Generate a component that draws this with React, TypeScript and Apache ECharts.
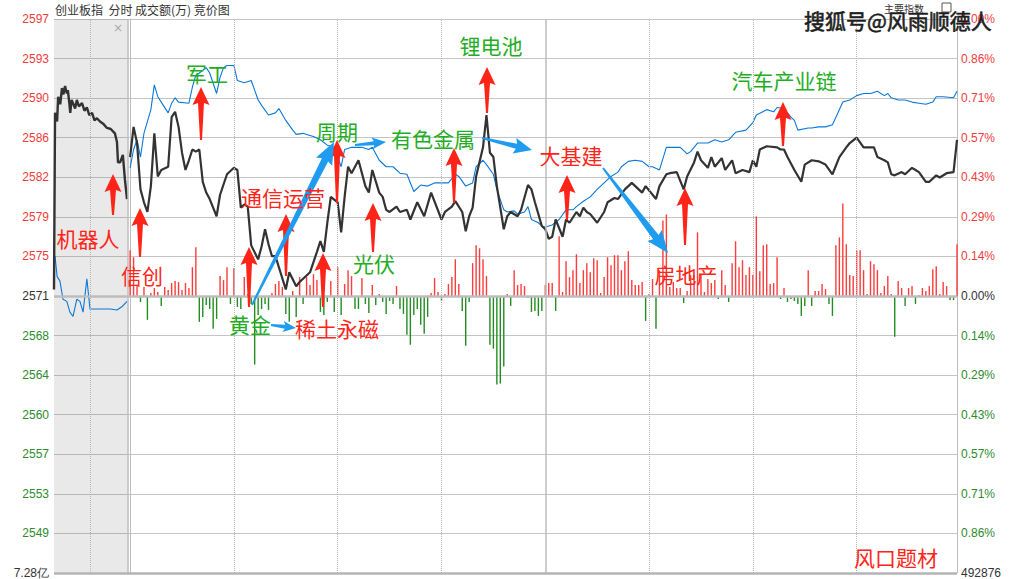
import React, { useEffect, useRef } from "react";
import * as echarts from "echarts";

// ---------- data ----------
const PREV_CLOSE = 2571.4; // 昨收
const PCT_PER_ROW = 1 / 7; // % per grid row
const STRENGTH_PER_ROW = 39.8; // strength units per grid row

const leftTickLabels = ["2597", "2593", "2590", "2586", "2582", "2579", "2575", "2571", "2568", "2564", "2560", "2557", "2553", "2549", "7.28亿"];
const rightTickLabels = ["1.00%", "0.86%", "0.71%", "0.57%", "0.43%", "0.29%", "0.14%", "0.00%", "0.14%", "0.29%", "0.43%", "0.57%", "0.71%", "0.86%", "492876"];

// 竞价 (auction) minutes before 9:30
const auctionMinutes = [-22.0, -21.7, -21.1, -20.8, -20.2, -19.7, -19.3, -18.8, -18.3, -18.0, -17.6, -17.3, -16.9, -16.5, -15.9, -15.4, -14.8, -13.9, -13.2, -12.5, -11.8, -11.0, -10.3, -9.6, -8.7, -7.8, -6.7, -5.6, -4.4, -3.8, -3.5, -2.9, -2.1, -1.5, -0.9];
const auctionIndex = [2572.0, 2588.4, 2587.6, 2589.9, 2589.2, 2590.7, 2590.1, 2590.9, 2590.2, 2590.5, 2589.4, 2588.4, 2589.6, 2589.3, 2588.8, 2589.6, 2589.0, 2589.3, 2588.6, 2588.9, 2588.2, 2588.4, 2587.7, 2587.9, 2587.6, 2587.4, 2587.0, 2586.9, 2586.5, 2585.7, 2583.8, 2583.8, 2584.5, 2582.2, 2580.4];
const auctionBlueMinutes = [-21.7, -21.1, -20.3, -19.4, -18.3, -17.4, -16.5, -15.4, -14.5, -13.6, -12.5, -11.6, -10.2, -8.7, -5.8, -3.8, -2.4, -0.9];
const auctionBlue = [2575.1, 2573.2, 2572.8, 2571.1, 2570.9, 2569.9, 2569.5, 2571.1, 2570.9, 2569.9, 2573.0, 2570.2, 2570.2, 2570.2, 2570.2, 2570.1, 2570.4, 2570.9];

// trading minutes (0 = 9:30, 120 = 11:30/13:00)
const indexMinutes = [0, 1, 2, 3, 4, 5, 6, 7, 8, 9, 11, 12, 13, 14, 15, 16, 17, 18, 19, 20, 21, 22, 23, 25, 26, 28, 30, 31, 32, 33, 34, 35, 37, 38, 39, 40, 41, 42, 45, 46, 48, 49, 52, 54, 55, 56, 57, 58, 60, 61, 62, 63, 64, 66, 68, 69, 70, 72, 73, 74, 75, 77, 78, 80, 81, 83, 85, 87, 90, 91, 93, 94, 96, 97, 98, 99, 100, 102, 103, 104, 105, 106, 108, 109, 110, 112, 113, 115, 116, 117, 119, 120, 121, 122, 123, 125, 126, 127, 129, 130, 131, 132, 133, 135, 137, 138, 140, 141, 143, 145, 146, 148, 149, 152, 153, 155, 156, 158, 160, 161, 163, 164, 165, 167, 168, 169, 171, 172, 174, 175, 177, 179, 180, 181, 182, 184, 187, 188, 189, 190, 192, 194, 195, 197, 199, 201, 203, 205, 207, 208, 210, 212, 213, 215, 216, 218, 219, 220, 221, 223, 224, 226, 227, 228, 230, 231, 233, 234, 236, 238, 239];
const indexValues = [2584.3, 2587.1, 2585.6, 2581.3, 2580.1, 2579.2, 2581.6, 2586.5, 2582.5, 2583.1, 2583.4, 2588.0, 2588.5, 2587.1, 2584.7, 2583.1, 2584.0, 2585.0, 2584.8, 2585.0, 2582.0, 2581.0, 2580.4, 2578.8, 2580.8, 2582.7, 2583.3, 2583.1, 2579.6, 2579.9, 2579.7, 2576.1, 2574.8, 2576.0, 2577.6, 2576.2, 2575.1, 2575.1, 2572.0, 2573.6, 2572.3, 2572.7, 2573.6, 2575.5, 2576.5, 2575.5, 2578.2, 2580.6, 2580.1, 2577.3, 2580.6, 2583.4, 2582.8, 2584.0, 2581.6, 2581.0, 2583.1, 2581.0, 2580.6, 2579.4, 2579.2, 2579.7, 2579.2, 2579.4, 2578.5, 2580.1, 2578.8, 2581.0, 2578.5, 2579.2, 2579.7, 2580.2, 2579.2, 2577.4, 2578.8, 2579.6, 2582.5, 2585.2, 2588.2, 2584.7, 2584.3, 2581.6, 2577.6, 2578.8, 2579.2, 2578.8, 2579.4, 2581.7, 2581.3, 2580.1, 2577.9, 2577.6, 2576.7, 2576.9, 2578.5, 2576.9, 2578.5, 2578.2, 2579.2, 2578.8, 2579.6, 2579.2, 2579.0, 2578.2, 2579.2, 2580.1, 2580.5, 2580.4, 2581.3, 2581.9, 2581.6, 2581.0, 2581.6, 2580.4, 2581.6, 2582.7, 2582.8, 2582.9, 2581.3, 2582.5, 2583.8, 2584.8, 2584.0, 2583.3, 2584.3, 2583.4, 2584.2, 2583.1, 2584.0, 2582.8, 2583.1, 2582.9, 2584.0, 2583.4, 2585.0, 2585.3, 2585.2, 2585.0, 2585.0, 2584.3, 2583.1, 2582.0, 2583.6, 2584.0, 2583.9, 2583.6, 2582.7, 2584.3, 2585.2, 2585.6, 2586.1, 2585.2, 2585.2, 2585.2, 2584.3, 2584.0, 2583.8, 2582.7, 2582.6, 2582.9, 2582.7, 2583.3, 2583.1, 2582.9, 2582.0, 2582.0, 2582.6, 2582.4, 2582.8, 2582.9, 2585.9];

const blueMinutes = [0, 1, 2, 3, 4, 6, 7, 8, 9, 11, 12, 13, 14, 17, 18, 19, 20, 22, 23, 25, 26, 27, 28, 30, 31, 33, 35, 37, 38, 40, 42, 43, 45, 47, 48, 50, 51, 53, 55, 57, 59, 61, 62, 64, 66, 67, 69, 70, 72, 74, 76, 78, 80, 82, 84, 86, 88, 90, 92, 94, 95, 97, 99, 100, 102, 103, 105, 106, 108, 109, 111, 112, 114, 115, 116, 118, 119, 120, 122, 124, 126, 128, 129, 131, 133, 135, 137, 139, 141, 142, 144, 146, 148, 150, 151, 153, 155, 157, 159, 161, 162, 164, 167, 169, 171, 173, 175, 178, 180, 181, 184, 186, 187, 189, 191, 192, 193, 196, 197, 199, 201, 203, 204, 206, 208, 210, 212, 214, 216, 218, 219, 220, 222, 224, 226, 228, 230, 232, 233, 235, 238, 239];
const blueValues = [2583.3, 2585.0, 2585.9, 2584.3, 2586.5, 2588.7, 2591.0, 2589.9, 2589.4, 2588.4, 2589.3, 2589.8, 2589.4, 2589.3, 2590.8, 2591.9, 2592.1, 2592.6, 2592.1, 2590.2, 2591.7, 2592.6, 2592.8, 2592.8, 2591.4, 2591.2, 2591.4, 2589.6, 2589.1, 2588.2, 2588.4, 2588.8, 2587.7, 2586.8, 2586.4, 2586.5, 2586.4, 2586.2, 2585.9, 2585.4, 2585.2, 2583.4, 2585.0, 2585.2, 2585.2, 2585.2, 2585.0, 2585.2, 2584.0, 2583.4, 2583.4, 2582.8, 2582.7, 2581.1, 2581.7, 2581.6, 2581.9, 2581.9, 2581.9, 2582.7, 2582.5, 2581.6, 2581.9, 2583.4, 2584.0, 2583.6, 2582.7, 2581.3, 2579.4, 2579.2, 2579.3, 2579.0, 2579.2, 2579.7, 2578.5, 2578.2, 2577.9, 2577.8, 2578.0, 2578.5, 2579.4, 2579.4, 2579.7, 2580.2, 2580.6, 2581.3, 2581.9, 2582.5, 2582.9, 2583.4, 2583.9, 2584.0, 2583.9, 2583.4, 2583.4, 2583.1, 2585.2, 2585.2, 2585.2, 2584.6, 2584.8, 2585.6, 2585.6, 2585.9, 2585.7, 2585.9, 2586.6, 2586.8, 2587.5, 2588.2, 2588.7, 2588.5, 2588.9, 2588.8, 2588.0, 2587.7, 2586.8, 2587.0, 2587.0, 2587.1, 2587.1, 2587.3, 2588.0, 2589.4, 2589.6, 2590.0, 2590.2, 2590.2, 2590.4, 2590.0, 2590.2, 2589.8, 2589.6, 2589.6, 2589.4, 2589.3, 2589.2, 2589.4, 2589.9, 2589.9, 2589.8, 2590.4];

// red/green strength bars, one per minute (0..239)
const barStrength = [
  46, 39, 10, -6, 9, -24, 3, 8, 4, -10,
  9, 6, 13, 15, 14, 6, 13, 8, 29, 49,
  -26, -21, -9, -13, -33, -23, 20, 16, 29, -8,
  28, -11, -13, 19, 2, -8, -69, -19, -13, -8,
  -14, 3, 12, 15, 9, -18, -26, 5, -21, 19,
  -8, 19, 11, 22, 16, -16, -19, -6, 15, -16,
  29, -19, 12, 26, 20, -13, -13, 18, -8, -17,
  11, -9, 2, -6, -18, -5, -8, 10, -13, -18,
  -39, -49, -19, -13, -29, -38, -21, 3, 18, 4,
  -5, 2, 12, 19, 37, 12, -15, -50, -6, 33,
  51, 48, 37, 20, -49, -53, -89, -88, -71, 2,
  -10, 26, 11, 12, 10, -2, -16, -15, -20, -15,
  11, 13, 13, -15, 60, 4, 35, 19, 26, 42,
  13, 26, 33, 24, 38, 36, 3, 19, 39, 31,
  41, 41, 26, 35, 45, 16, 11, 11, 14, -25,
  2, 17, -33, 26, 76, 82, 9, 14, 8, 8,
  -7, 5, 21, 21, 64, 21, 4, 17, 13, 16,
  -3, 26, 11, -6, 33, 55, 29, 36, 21, 29,
  21, 80, 25, 51, 52, 12, 13, 39, -3, 8,
  -6, -3, -5, -8, -20, -10, 26, -10, 5, 5,
  12, 7, -8, -20, 51, 59, 93, 52, 21, 20,
  46, 46, 26, 2, 35, 32, 26, 3, 10, 20,
  2, -41, 15, 8, -10, 8, 10, -8, 1, 8,
  5, 10, 27, 30, 2, 14, 10, -4, -4, 52,
];

// ---------- annotation decoration (pixel layout) ----------
const RED = "#ff2418";
const GREEN = "#1fae1f";
const BLUE_ARROW = "#1f9bf0";

const redArrowSpots: [number, number, number][] = [
  [113, 174, 215], [140, 208, 257], [201, 87, 140], [249, 247, 307], [286, 214, 276],
  [323, 253, 307], [337, 140, 203], [373, 203, 252], [454, 148, 203], [487, 67, 113],
  [567, 175, 220], [685, 188, 245], [783, 102, 146],
];
const blueArrowSpots: number[][] = [
  // x0, y0, x1, y1, headWidth, headLen, shaftWidth, tailWidth
  [252, 305, 334, 142, 18, 20, 7, 2],
  [271, 325, 296, 328, 11, 11, 4, 2],
  [355, 145, 386, 142, 12, 12, 4, 2],
  [482, 138, 532, 150, 16, 16, 5, 2],
  [603, 168, 668, 253, 18, 20, 7, 2],
];
const tags: [string, number, number, string][] = [
  ["机器人", 88, 238, RED], ["信创", 142, 275, RED], ["军工", 207, 73, GREEN],
  ["通信运营", 283, 197, RED], ["黄金", 250, 324, GREEN], ["稀土永磁", 337, 328, RED],
  ["周期", 337, 131, GREEN], ["有色金属", 433, 138, GREEN], ["光伏", 374, 263, GREEN],
  ["锂电池", 491, 45, GREEN], ["大基建", 571, 155, RED], ["房地产", 686, 274, RED],
  ["汽车产业链", 784, 80, GREEN], ["风口题材", 896, 557, RED],
];

function arrowPoints(x0: number, y0: number, x1: number, y1: number, hw: number, hl: number, sw: number, tw: number) {
  const dx = x1 - x0, dy = y1 - y0;
  const L = Math.hypot(dx, dy);
  const ux = dx / L, uy = dy / L;
  const nx = -uy, ny = ux;
  const bx = x1 - ux * hl, by = y1 - uy * hl;
  return [
    [x0 + (nx * tw) / 2, y0 + (ny * tw) / 2],
    [bx + (nx * sw) / 2, by + (ny * sw) / 2],
    [bx + (nx * hw) / 2 - ux * 2, by + (ny * hw) / 2 - uy * 2],
    [x1, y1],
    [bx - (nx * hw) / 2 - ux * 2, by - (ny * hw) / 2 - uy * 2],
    [bx - (nx * sw) / 2, by - (ny * sw) / 2],
    [x0 - (nx * tw) / 2, y0 - (ny * tw) / 2],
  ];
}

const toRow = (p: number) => ((p / PREV_CLOSE - 1) * 100) / PCT_PER_ROW;
const labelColor = (v: any) => {
  const n = Math.round(Number(v));
  if (n === 0 || n === -7) return "#333333";
  return n > 0 ? "#f03c3c" : "#2e8b2e";
};

export default function App() {
  const ref = useRef<HTMLDivElement>(null);
  useEffect(() => {
    document.body.style.margin = "0";
    document.body.style.background = "#ffffff";
    if (!ref.current) return;
    const chart = echarts.init(ref.current, undefined, { renderer: "svg" });

    const graphics: any[] = [];
    graphics.push({
      type: "text", x: 55, y: 9, z: 100,
      style: { text: "创业板指  分时 成交额(万) 竞价图", fill: "#333", font: '12px "Noto Sans CJK SC"', textAlign: "left", textVerticalAlign: "middle" },
    });
    graphics.push({
      type: "text", x: 884, y: 8, z: 100,
      style: { text: "主要指数", fill: "#333", font: '10px "Noto Sans CJK SC"', textAlign: "left", textVerticalAlign: "middle" },
    });
    graphics.push({ type: "rect", z: 100, shape: { x: 942, y: 3, width: 9, height: 9 }, style: { fill: "none", stroke: "#555", lineWidth: 1 } });
    graphics.push({
      type: "text", x: 118, y: 28, z: 100,
      style: { text: "×", fill: "#aaaaaa", font: '12px "DejaVu Sans"', textAlign: "center", textVerticalAlign: "middle" },
    });
    redArrowSpots.forEach(([x, ty, by]) => {
      graphics.push({ type: "polygon", z: 110, shape: { points: arrowPoints(x, by, x, ty, 17, 16, 6, 2) }, style: { fill: RED } });
    });
    blueArrowSpots.forEach(([x0, y0, x1, y1, hw, hl, sw, tw]) => {
      graphics.push({ type: "polygon", z: 110, shape: { points: arrowPoints(x0, y0, x1, y1, hw, hl, sw, tw) }, style: { fill: BLUE_ARROW } });
    });
    tags.forEach(([t, x, y, c]) => {
      graphics.push({
        type: "text", x, y, z: 120,
        style: { text: t, fill: c, font: '21px "Noto Sans CJK SC"', textAlign: "center", textVerticalAlign: "middle" },
      });
    });
    graphics.push({
      type: "text", x: 804, y: 20, z: 130,
      style: { text: "搜狐号@风雨顺德人", fill: "#1e1e1e", stroke: "#1e1e1e", lineWidth: 0.6, font: '21px "Noto Sans CJK SC"', textAlign: "left", textVerticalAlign: "middle" },
    });

    const vLine = (x: number, solid: boolean) => ({
      xAxis: x,
      lineStyle: solid ? { type: "solid", color: "#bdbdbd", width: 1.5 } : { type: "dotted", color: "#b5b5b5", width: 1 },
    });

    const yAxisBase = {
      type: "value",
      min: -7,
      max: 7,
      interval: 1,
      axisTick: { show: false },
      axisLine: { show: true, lineStyle: { color: "#bdbdbd", width: 1 } },
    };

    chart.setOption({
      animation: false,
      backgroundColor: "#ffffff",
      grid: { left: 54, right: 52, top: 19, bottom: 3, containLabel: false },
      xAxis: {
        type: "value", min: -22, max: 239,
        axisLine: { show: false }, axisTick: { show: false }, axisLabel: { show: false }, splitLine: { show: false },
      },
      yAxis: [
        {
          ...yAxisBase,
          position: "left",
          splitLine: { show: true, lineStyle: { color: "#c4c4c4", width: 1 } },
          axisLabel: {
            margin: 5, fontSize: 12, fontFamily: '"Liberation Sans", Arial',
            formatter: (v: number) => leftTickLabels[7 - Math.round(v)],
            color: labelColor,
          },
        },
        {
          ...yAxisBase,
          position: "right",
          splitLine: { show: false },
          axisLabel: {
            margin: 4, fontSize: 12, fontFamily: '"Liberation Sans", Arial',
            formatter: (v: number) => rightTickLabels[7 - Math.round(v)],
            color: labelColor,
          },
        },
      ],
      series: [
        {
          type: "bar",
          barWidth: 1.4,
          data: barStrength.map((s, i) => ({
            value: [i, s / STRENGTH_PER_ROW],
            itemStyle: { color: s >= 0 ? "#ff3b3b" : "#228b22" },
          })),
          markArea: {
            silent: true,
            itemStyle: { color: "rgba(110,110,110,0.15)" },
            data: [[{ xAxis: -22 }, { xAxis: -0.7 }]],
          },
          markLine: {
            silent: true,
            symbol: ["none", "none"],
            label: { show: false },
            data: [
              vLine(-11.6, false), vLine(-0.7, true), vLine(30, false), vLine(60, false), vLine(90, false),
              vLine(120, true), vLine(150, false), vLine(180, false), vLine(210, false),
              { yAxis: 0, lineStyle: { type: "solid", color: "#bcbcbc", width: 2.5 } },
              { yAxis: -7, lineStyle: { type: "solid", color: "#b4b4b4", width: 2.5 } },
            ],
          },
        },
        {
          type: "line", showSymbol: false, silent: true,
          data: auctionBlueMinutes.map((m, i) => [m, toRow(auctionBlue[i])]),
          lineStyle: { color: "#0a78d8", width: 1.1 },
        },
        {
          type: "line", showSymbol: false, silent: true,
          data: blueMinutes.map((m, i) => [m, toRow(blueValues[i])]),
          lineStyle: { color: "#0a78d8", width: 1.1 },
        },
        {
          type: "line", showSymbol: false, silent: true,
          data: auctionMinutes.map((m, i) => [m, toRow(auctionIndex[i])]),
          lineStyle: { color: "#333333", width: 2.4 },
        },
        {
          type: "line", showSymbol: false, silent: true,
          data: indexMinutes.map((m, i) => [m, toRow(indexValues[i])]),
          lineStyle: { color: "#333333", width: 2.2 },
        },
      ],
      graphic: { elements: graphics },
    });

    return () => chart.dispose();
  }, []);

  return <div ref={ref} style={{ width: 1009, height: 579 }} />;
}
